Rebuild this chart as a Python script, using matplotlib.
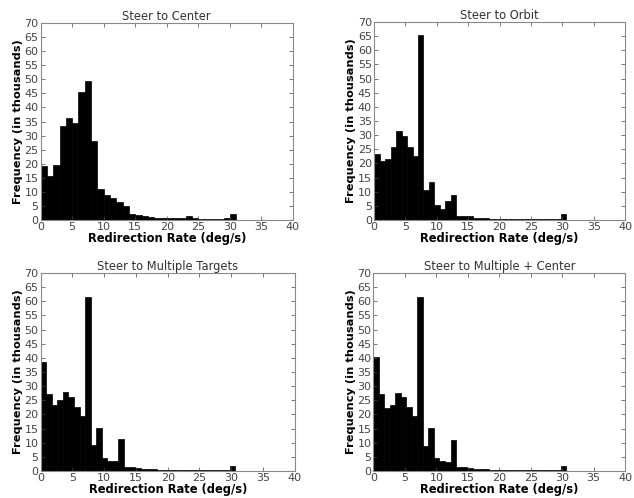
import numpy as np
import matplotlib
matplotlib.use("Agg")
import matplotlib.pyplot as plt

titles = ["Steer to Center", "Steer to Orbit", "Steer to Multiple Targets", "Steer to Multiple + Center"]

# bin edges (deg/s)
edges_center = np.arange(0, 41, 1.0)
edges_other = np.linspace(0, 35, 41)

# frequencies in thousands, one value per bin
center = [19.1, 15.6, 19.6, 33.4, 36.4, 34.3, 45.3, 49.4, 28.1, 11.2,
          8.9, 7.7, 6.5, 5.0, 2.3, 1.8, 1.3, 1.0, 0.9, 0.8,
          0.8, 0.6, 0.7, 1.3, 0.6, 0.5, 0.5, 0.4, 0.5, 0.8,
          2.0, 0.2, 0.1, 0.1, 0, 0, 0, 0, 0, 0]
orbit = [23.3, 20.9, 21.5, 25.9, 31.3, 29.6, 25.9, 22.6, 65.5, 10.6,
         13.4, 5.4, 4.1, 6.8, 8.9, 1.5, 1.4, 1.4, 0.9, 0.7,
         0.6, 0.5, 0.5, 0.4, 0.4, 0.5, 0.3, 0.3, 0.3, 0.3,
         0.3, 0.3, 0.3, 0.4, 2.0, 0.2, 0.1, 0, 0, 0]
multiple = [38.7, 27.2, 23.3, 25.1, 27.9, 26.1, 22.5, 19.3, 61.6, 9.3,
            15.4, 4.6, 3.4, 3.4, 11.3, 1.5, 1.3, 1.0, 0.8, 0.7,
            0.6, 0.5, 0.5, 0.4, 0.5, 0.4, 0.3, 0.3, 0.3, 0.3,
            0.3, 0.3, 0.4, 0.5, 1.8, 0.2, 0.1, 0, 0, 0]
multi_center = [40.4, 27.3, 22.2, 23.2, 27.5, 26.0, 22.8, 19.6, 61.4, 9.0,
                15.4, 4.6, 3.4, 3.3, 11.0, 1.3, 1.3, 1.2, 0.8, 0.7,
                0.6, 0.5, 0.5, 0.4, 0.5, 0.4, 0.3, 0.3, 0.3, 0.3,
                0.3, 0.3, 0.4, 0.5, 1.8, 0.2, 0.1, 0, 0, 0]

series = [center, orbit, multiple, multi_center]
edges_list = [edges_center, edges_other, edges_other, edges_other]

xticks = list(range(0, 41, 5))
yticks = list(range(0, 71, 5))

plt.rcParams['font.family'] = ['DejaVu Sans']

fig = plt.figure(figsize=(6.34, 4.98), dpi=100)
positions = [
    [0.064, 0.558, 0.398, 0.396],
    [0.590, 0.558, 0.396, 0.398],
    [0.064, 0.054, 0.401, 0.398],
    [0.589, 0.054, 0.397, 0.398],
]

for pos, title, vals, edges in zip(positions, titles, series, edges_list):
    ax = fig.add_axes(pos)
    centers = (edges[:-1] + edges[1:]) / 2
    ax.hist(centers, bins=edges, weights=vals, color="black", edgecolor="black", linewidth=0.5)
    ax.set_xlim(0, 40)
    ax.set_ylim(0, 70)
    ax.set_xticks(xticks)
    ax.set_yticks(yticks)
    ax.tick_params(direction="in", top=True, right=True, length=3, width=0.5,
                   labelsize=8, colors="#444444", pad=1.5)
    for s in ax.spines.values():
        s.set_color("#888888")
        s.set_linewidth(0.8)
    ax.set_title(title, fontsize=8.3, color="#333333", pad=2)
    ax.set_xlabel("Redirection Rate (deg/s)", fontsize=8.3, fontweight="bold", labelpad=0)
    ax.set_ylabel("Frequency (in thousands)", fontsize=8.2, fontweight="bold", labelpad=1)

fig.savefig("out.png", dpi=100)
